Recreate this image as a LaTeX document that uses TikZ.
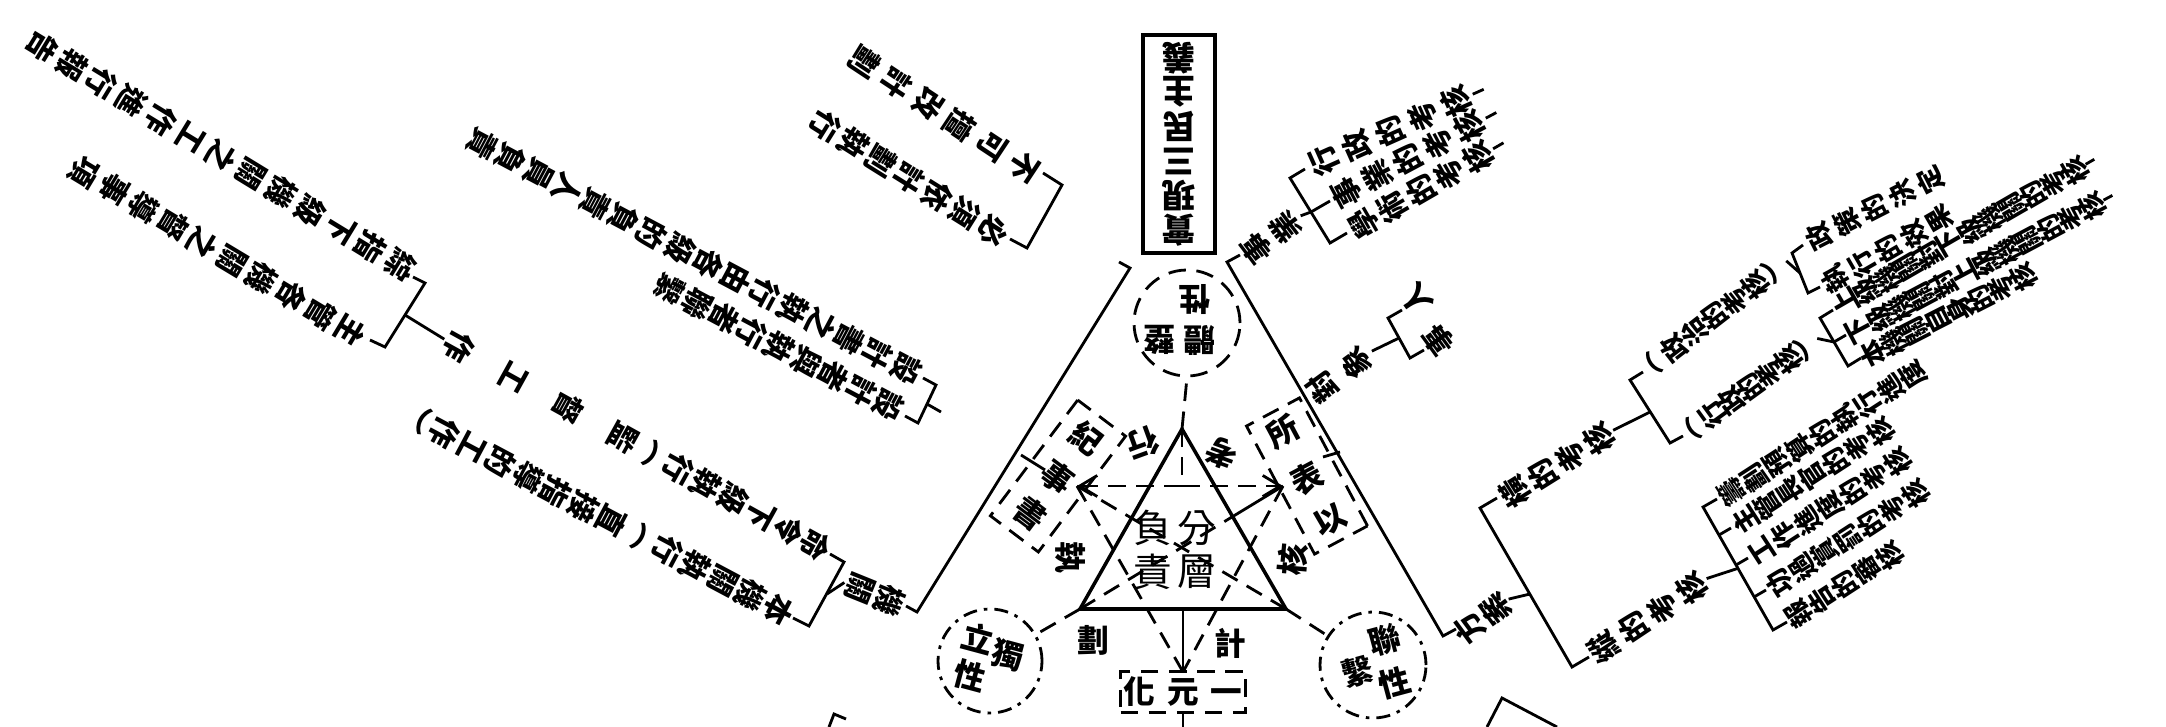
\documentclass[tikz,border=0pt]{standalone}
\usepackage{fontspec}
\newfontfamily\cj{Noto Sans CJK TC}
\usetikzlibrary{arrows.meta}
\newdimen\vtp
\newcommand\VT[2]{\vtp=#1\relax\vbox{\offinterlineskip\VTA#2\VTstop}}
\def\VTstop{\VTstop}
\def\VTA#1{\ifx#1\VTstop\else\hbox to 1em{\hss\vbox to\vtp{\vss\hbox{#1}\vss}\hss}\expandafter\VTA\fi}
\begin{document}
\begin{tikzpicture}[x=0.1mm,y=-0.1mm,
  ln/.style={rotate=#1, anchor=north, inner sep=0pt, font=\cj\bfseries\fontsize{8.5}{9}\selectfont},
  sl/.style={rotate=#1, anchor=north, inner sep=0pt, font=\cj\bfseries\fontsize{7.6}{8}\selectfont},
  ch/.style={inner sep=0pt, font=\cj\bfseries\fontsize{9}{10}\selectfont},
  big/.style={inner sep=0pt, font=\cj\fontsize{11}{12}\selectfont},
  brk/.style={line width=0.8pt},
  dsh/.style={line width=0.8pt, dash pattern=on 5pt off 3pt},
  dd/.style={line width=0.8pt, dash pattern=on 4pt off 2pt on 1pt off 2pt},
  tip/.style={-{Straight Barb[length=5pt,width=6pt]}}]
\useasboundingbox (0,0) rectangle (2166,727);
\fill[white] (0,0) rectangle (2166,727);

% ---------- centre ----------
\coordinate (T1) at (1182,429); \coordinate (T2) at (1080,609); \coordinate (T3) at (1286,609);
\coordinate (L) at (1077,486); \coordinate (R) at (1283,486); \coordinate (B) at (1183,672);
\coordinate (M) at (1182,486); \coordinate (BM) at (1183,609); \coordinate (X) at (1232.6,516.6);
\draw[line width=1pt] (T1)--(T2)--(T3)--cycle;
\draw[dsh] (T1)--(M);
\draw[dsh,tip] (M)--(L); \draw[dsh,tip] (M)--(R);
\draw[dsh] (L)--(B); \draw[dsh] (R)--(B);
\draw[dsh] (T3)--(L); \draw[dsh] (T2)--(X); \draw[line width=0.8pt] (X)--(R);
\draw[line width=0.8pt] (BM)--(B);

\node[big] (fen) at (1197,528) {分}; \node[big] (ceng) at (1197,572) {層};
\node[big] (fu) at (1153,528) {負}; \node[big] (ze) at (1153,572) {責};
\node[ch,rotate=200] (xing) at (1143,443) {行};
\node[ch,rotate=-90] (zhi) at (1070,557) {執};
\node[ch,rotate=160] (kao) at (1222,453) {考};
\node[ch,rotate=85] (he) at (1293,560) {核};
\node[ch] (hua) at (1093,640) {劃};
\node[ch] (ji) at (1230,643) {計};

% bottom box
\node[draw, dsh, minimum width=12.5mm, minimum height=4.1mm, inner sep=0pt, font=\cj\bfseries\fontsize{9}{10}\selectfont] (yy) at (1183,692) {化\hspace{1.2mm}元\hspace{1.2mm}一};
\draw[line width=0.8pt] (yy.south)--(1183,727);

% dashed side boxes
\node[draw, dsh, rotate=53, minimum width=14.5mm, minimum height=6mm, inner sep=0pt] (lbox) at (1058,476) {};
\node[ch,rotate=-37] at (1087,438) {紀};
\node[ch,rotate=-37] at (1057,477) {事};
\node[ch,rotate=-37] at (1030,513) {書};
\node[draw, dsh, rotate=-62, minimum width=14.5mm, minimum height=6mm, inner sep=0pt] (rbox) at (1307,476) {};
\node[ch,rotate=28] at (1283,432) {所};
\node[ch,rotate=28] at (1307,478) {表};
\node[ch,rotate=28] at (1330,520) {以};

% circles
\node[circle, draw, dsh, minimum size=10.6mm, inner sep=0pt] (ctop) at (1187,323) {};
\node[ch,rotate=180] at (1160,340) {整};
\node[ch,rotate=180] at (1200,340) {體};
\node[ch,rotate=180] at (1195,300) {性};
\draw[dsh] (T1)--(ctop.south);
\node[circle, draw, dd, minimum size=10.4mm, inner sep=0pt] (cl) at (990,661) {};
\node[ch,rotate=-15] at (978,638) {立};
\node[ch,rotate=-15] at (1008,655) {獨};
\node[ch,rotate=-15] at (970,676) {性};
\draw[dsh] (T2)--(cl);
\node[circle, draw, dd, minimum size=10.6mm, inner sep=0pt] (cr) at (1373,665) {};
\node[ch,rotate=15] at (1385,640) {聯};
\node[ch,rotate=15] at (1358,672) {繫};
\node[ch,rotate=15] at (1395,683) {性};
\draw[dsh] (T3)--(cr);

% top box
\node[draw, line width=1.1pt, minimum width=7.2mm, minimum height=21.8mm, inner sep=0pt] (tb) at (1179,144) {};
\node[rotate=180, inner sep=0pt, font=\cj\bfseries\fontsize{9.5}{10}\selectfont] at (tb.center) {\VT{3.45mm}{實現三民主義}};

% ---------- left wedge ----------
\coordinate (LW1) at (1130,268); \coordinate (LW2) at (917,612);
\draw[brk] (1119,262)--(LW1)--(LW2)--(906,606);
\draw[brk] (1021,455)--(1045,470);

% E bracket
\draw[brk] (1043,173)--(1062,185)--(1027,248)--(1010,239);
\node[ln=236.5] (E2) at (1040,178) {\VT{3.8mm}{不可擅改計劃}};
\node[ln=238] (E1) at (1008,240) {\VT{3.3mm}{必須依計劃執行}};

% F bracket
\draw[brk] (923,378)--(936,385)--(918,423)--(905,416);
\draw[brk] (927,404)--(941,412);
\node[ln=242] (F1) at (921,377) {\VT{3.2mm}{設計書之執行由各級的負責人員負責}};
\node[ln=242] (F2) at (903,413) {\VT{3.1mm}{設計者與執行者聯繫}};

% 機關
\node[ln=248] (JG) at (905,607) {\VT{3.2mm}{機關}};
\draw[brk] (JG.south)--(827,594);
\draw[brk] (830,554)--(844,562)--(809,626)--(793,618);
\node[ln=241] (C1) at (830,553) {\VT{3.14mm}{命令下級執行︵監　督　工　作}};
\node[ln=242] (C2) at (793,618) {\VT{3.15mm}{本機關執行︵直接指導的工作︶}};

% A/B bracket
\draw[brk] (C1.south)--(405,315);
\draw[brk] (413,277)--(425,283)--(385,347)--(370,340);
\node[ln=238.6] (A) at (416,275) {\VT{3.5mm}{綜指下級機關之工作進行報告}};
\node[ln=239] (Bl) at (366,341) {\VT{3.45mm}{主管各機關之督導事項}};

% partial brackets at the bottom edge
\draw[brk] (829,727)--(834,714)--(846,719);
\draw[brk] (1487,727)--(1502,698)--(1557,727);

% ---------- right wedge ----------
\coordinate (RW1) at (1227,262); \coordinate (RW2) at (1443,636);
\draw[brk] (1240,255)--(RW1)--(RW2)--(1456,629);
\draw[brk] (1323,457)--(1340,452);

% top right
\node[ln=127] (SY) at (1242,260) {\VT{3.6mm}{事業}};
\draw[brk] (SY.south)--(1311,212)--(1330,201);
\draw[brk] (1305,169)--(1290,178)--(1330,243)--(1347,233);
\node[ln=114] (R1) at (1307,168) {\VT{3.6mm}{行政的考核}};
\node[ln=118] (R2) at (1330,201) {\VT{3.5mm}{事業的考核}};
\node[ln=120] (R3) at (1349,232) {\VT{3.3mm}{學術的考核}};
\draw[brk] (R1.south)--++(-24:12); \draw[brk] (R2.south)--++(-28:12); \draw[brk] (R3.south)--++(-30:12);

% object
\node[ln=126] (DX) at (1306,399) {\VT{4mm}{對象}};
\draw[brk] (DX.south)--(1399,338);
\draw[brk] (1402,310)--(1388,318)--(1410,358)--(1424,350);
\node[ln=126] (ren) at (1402,310) {\VT{3.4mm}{人}};
\node[ln=126] (shi) at (1424,350) {\VT{3.4mm}{事}};

% plan
\node[ln=126.5] (FA) at (1456,638) {\VT{3.2mm}{方案}};
\draw[brk] (FA.south)--(1530,594);
\draw[brk] (1497,498)--(1480,508)--(1572,667)--(1589,657);
\node[ln=122] (XL) at (1500,501) {\VT{3.3mm}{橫的考核}};
\node[ln=123.7] (YL) at (1589,657) {\VT{3.5mm}{縱的考核}};
\draw[brk] (XL.south)--(1650,412);
\draw[brk] (YL.south)--(1739,568);

% X sub bracket
\draw[brk] (1643,372)--(1630,380)--(1670,443)--(1683,436);
\node[sl=127.8] (X1) at (1643,372) {\VT{2.57mm}{︵政治的考核︶}};
\node[sl=126] (X2) at (1683,436) {\VT{2.35mm}{︵行政的考核︶}};
\draw[brk] (X1.south)--(1800,273);
\draw[brk] (X2.south)--(1834,342);

% P bracket
\draw[brk] (1803,245)--(1792,253)--(1808,293)--(1820,287);
\node[sl=117] (P1) at (1805,244) {\VT{3.1mm}{政策的決定}};
\node[sl=120] (P2) at (1822,287) {\VT{3.0mm}{執行的效果}};

% Q bracket
\draw[brk] (1833,310)--(1820,318)--(1848,366)--(1861,358);
\draw[brk] (1834,342)--(1846,335);
\node[sl=120] (Q1) at (1835,309) {\VT{2.4mm}{上級機關對下級機關的考核}};
\node[sl=118] (Q2) at (1848,336) {\VT{2.4mm}{下級機關對上級機關的考核}};
\node[sl=117] (Q3) at (1862,359) {\VT{2.4mm}{本機關自身的考核}};
\draw[brk] (Q1.south)--++(-30:10); \draw[brk] (Q2.south)--++(-28:10);

% S bracket
\draw[brk] (1717,499)--(1703,507)--(1773,630)--(1787,622);
\draw[brk] (1719,535)--(1731,528); \draw[brk] (1736,565)--(1748,558); \draw[brk] (1754,597)--(1766,590);
\node[sl=123] (S1) at (1720,500) {\VT{2.7mm}{籌劃預算的執行進度}};
\node[sl=123] (S2) at (1733,528) {\VT{2.7mm}{主管長官的考核}};
\node[sl=123] (S3) at (1750,558) {\VT{2.7mm}{工作進度的考核}};
\node[sl=123] (S4) at (1768,590) {\VT{2.7mm}{功過賞罰的考核}};
\node[sl=123] (S5) at (1787,622) {\VT{2.7mm}{報告的審核}};
\end{tikzpicture}
\end{document}
